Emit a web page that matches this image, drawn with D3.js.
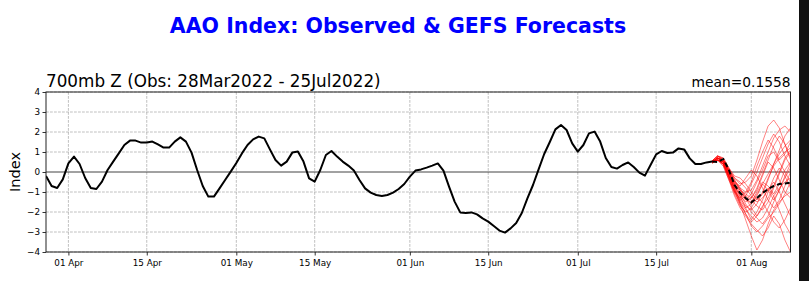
<!DOCTYPE html>
<html>
<head>
<meta charset="utf-8">
<script src="https://cdn.jsdelivr.net/npm/d3@7"></script>
<style>
  body { margin: 0; background: #fff; }
  svg { display: block; font-family: "DejaVu Sans", sans-serif; }
</style>
</head>
<body>
<script>
"use strict";

// daily observed AAO index, starting 28 Mar 2022
const obsStart = "2022-03-28";
const observed = [
  -0.2, -0.7, -0.8, -0.37, 0.43, 0.77, 0.4, -0.3, -0.8, -0.85,
  -0.48, 0.1, 0.52, 0.93, 1.35, 1.57, 1.57, 1.47, 1.47, 1.52,
  1.38, 1.22, 1.22, 1.52, 1.73, 1.52, 0.97, 0.1, -0.7, -1.23,
  -1.23, -0.82, -0.4, 0.02, 0.45, 0.93, 1.35, 1.63, 1.77, 1.68,
  1.13, 0.6, 0.32, 0.52, 0.97, 1.02, 0.52, -0.32, -0.48, 0.1,
  0.85, 1.05, 0.77, 0.52, 0.32, 0.07, -0.4, -0.82, -1.03, -1.15,
  -1.2, -1.15, -1.03, -0.85, -0.6, -0.23, 0.07, 0.13, 0.22, 0.32,
  0.43, 0.07, -0.73, -1.48, -2.02, -2.05, -2.02, -2.12, -2.32, -2.48,
  -2.7, -2.93, -3.03, -2.82, -2.55, -2.05, -1.32, -0.65, 0.13, 0.9,
  1.5, 2.13, 2.35, 2.1, 1.43, 1.02, 1.35, 1.93, 2.02, 1.52,
  0.7, 0.25, 0.17, 0.35, 0.48, 0.25, -0.03, -0.18, 0.35, 0.88,
  1.05, 0.95, 0.97, 1.18, 1.13, 0.68, 0.4, 0.4, 0.48, 0.52
];

// GEFS members, daily from 25 Jul 2022
const fcstStart = "2022-07-25";
const members = [
  [0.5, 0.7, 0.6, 0.0, -0.6, -1.0, -1.3, -1.6, -1.2, -0.6, -0.1, 0.4, 0.9, 1.3, 1.6],
  [0.45, 0.6, 0.4, -0.3, -1.0, -1.5, -1.9, -2.2, -2.5, -2.3, -1.8, -1.2, -0.8, -0.5, -0.3],
  [0.55, 0.8, 0.7, 0.2, -0.3, -0.6, -0.5, -0.2, 0.6, 1.5, 2.3, 2.6, 2.2, 1.4, 0.6],
  [0.5, 0.6, 0.5, -0.2, -0.9, -1.6, -2.4, -3.2, -3.9, -3.4, -2.6, -1.9, -1.5, -1.2, -1.0],
  [0.5, 0.7, 0.5, 0.0, -0.5, -0.8, -1.0, -0.9, -0.4, 0.3, 1.0, 1.7, 2.1, 2.3, 2.0],
  [0.45, 0.6, 0.3, -0.4, -1.2, -1.8, -2.2, -2.6, -2.9, -3.2, -2.8, -2.2, -2.6, -3.4, -4.0],
  [0.5, 0.7, 0.6, 0.1, -0.4, -0.9, -1.4, -1.5, -1.0, -0.5, -0.7, -1.1, -0.6, 0.1, 0.5],
  [0.55, 0.8, 0.6, 0.1, -0.5, -0.7, -0.3, 0.1, -0.2, -0.8, -1.4, -1.8, -1.4, -0.7, 0.0],
  [0.5, 0.6, 0.4, -0.2, -0.8, -1.3, -1.7, -1.9, -1.6, -1.0, -0.3, 0.3, 0.7, 1.0, 1.2],
  [0.5, 0.7, 0.5, -0.1, -0.9, -1.4, -1.2, -0.6, 0.0, 0.7, 1.4, 1.9, 1.5, 0.8, 0.3],
  [0.45, 0.7, 0.4, -0.3, -1.1, -1.7, -2.0, -1.8, -1.3, -1.5, -2.0, -2.5, -2.8, -2.4, -1.8],
  [0.5, 0.6, 0.5, 0.0, -0.6, -1.1, -1.6, -2.0, -2.3, -2.6, -2.2, -1.5, -0.9, -0.3, 0.2],
  [0.55, 0.8, 0.7, 0.2, -0.2, -0.3, -0.6, -1.0, -1.4, -1.1, -0.4, 0.4, 1.1, 1.8, 2.2],
  [0.5, 0.6, 0.4, -0.2, -0.7, -1.2, -1.5, -1.3, -0.9, -0.2, 0.5, 0.2, -0.4, -1.0, -1.3],
  [0.5, 0.7, 0.6, 0.0, -0.8, -1.5, -2.1, -2.7, -3.0, -2.7, -2.3, -2.0, -1.6, -1.1, -0.5],
  [0.5, 0.7, 0.5, -0.1, -0.6, -0.9, -1.2, -1.4, -1.7, -1.9, -1.5, -0.8, -0.1, 0.6, 1.0],
  [0.45, 0.6, 0.3, -0.4, -1.0, -1.3, -1.0, -0.5, 0.3, 1.0, 1.6, 1.2, 0.6, 0.9, 1.5],
  [0.55, 0.8, 0.6, 0.0, -0.7, -1.2, -1.8, -2.4, -2.0, -1.4, -0.8, -1.2, -1.9, -2.6, -3.1],
  [0.5, 0.7, 0.5, -0.1, -0.5, -0.9, -1.1, -1.3, -0.8, -0.1, 0.6, 1.3, 1.8, 1.4, 0.7],
  [0.5, 0.6, 0.5, -0.2, -0.9, -1.4, -1.8, -1.6, -1.1, -0.6, -0.9, -1.4, -0.9, -0.2, 0.4],
  [0.5, 0.7, 0.6, 0.1, -0.4, -0.8, -1.3, -1.8, -2.2, -1.8, -1.0, -0.3, 0.2, -0.2, -0.8],
  [0.5, 0.7, 0.4, -0.2, -0.8, -1.1, -1.4, -1.1, -0.5, 0.1, 0.8, 1.0, 0.5, 0.0, -0.5],
  [0.45, 0.6, 0.4, -0.3, -1.0, -1.6, -2.1, -2.5, -2.2, -1.7, -1.3, -0.7, 0.0, 0.7, 1.1],
  [0.55, 0.8, 0.6, 0.1, -0.3, -0.5, -0.8, -1.2, -1.5, -1.3, -0.9, -0.5, -1.0, -1.6, -2.2]
];
// ensemble mean (dashed)
const ensMean = [0.52, 0.5, 0.65, 0.1, -0.65, -1.05, -1.3, -1.52, -1.3, -1.05, -0.85, -0.7, -0.6, -0.57, -0.53];

const yTicks = [-4, -3, -2, -1, 0, 1, 2, 3, 4];
const xTicks = ["2022-04-01", "2022-04-15", "2022-05-01", "2022-05-15", "2022-06-01",
                "2022-06-15", "2022-07-01", "2022-07-15", "2022-08-01"];

const W = 809, H = 281;
const plot = { left: 46, right: 790.5, top: 92, bottom: 252 };

const parse = d3.utcParse("%Y-%m-%d");

function series(start, values) {
  const t0 = parse(start);
  return values.map((v, i) => ({ date: d3.utcDay.offset(t0, i), value: v }));
}

const svg = d3.select("body").append("svg")
  .attr("width", W)
  .attr("height", H);

svg.append("rect").attr("width", W).attr("height", H).attr("fill", "#fff");

const x = d3.scaleUtc()
  .domain([parse("2022-03-28"), parse("2022-08-08")])
  .range([plot.left, plot.right]);
const y = d3.scaleLinear()
  .domain([-4, 4])
  .range([plot.bottom, plot.top]);

// grid
const grid = svg.append("g").attr("stroke", "#b0b0b0").attr("stroke-width", 0.8)
  .attr("stroke-dasharray", "2.8,1.2");
grid.selectAll(".gy").data(yTicks.filter(d => d !== 0)).enter().append("line")
  .attr("x1", plot.left).attr("x2", plot.right)
  .attr("y1", d => y(d)).attr("y2", d => y(d));
grid.selectAll(".gx").data(xTicks).enter().append("line")
  .attr("x1", d => x(parse(d))).attr("x2", d => x(parse(d)))
  .attr("y1", plot.top).attr("y2", plot.bottom);

// zero line
svg.append("line")
  .attr("x1", plot.left).attr("x2", plot.right)
  .attr("y1", y(0)).attr("y2", y(0))
  .attr("stroke", "#444").attr("stroke-width", 1);

// clip to the axes box
svg.append("clipPath").attr("id", "clip").append("rect")
  .attr("x", plot.left).attr("y", plot.top)
  .attr("width", plot.right - plot.left).attr("height", plot.bottom - plot.top);

const line = d3.line().x(d => x(d.date)).y(d => y(d.value));
const lines = svg.append("g").attr("clip-path", "url(#clip)");

lines.append("path")
  .datum(series(obsStart, observed))
  .attr("d", line)
  .attr("fill", "none")
  .attr("stroke", "#000")
  .attr("stroke-width", 2)
  .attr("stroke-linejoin", "round");

lines.selectAll(".member").data(members).enter().append("path")
  .attr("d", d => line(series(fcstStart, d)))
  .attr("fill", "none")
  .attr("stroke", "#ff0000")
  .attr("stroke-opacity", 0.7)
  .attr("stroke-width", 0.7);

lines.append("path")
  .datum(series(fcstStart, ensMean))
  .attr("d", line)
  .attr("fill", "none")
  .attr("stroke", "#000")
  .attr("stroke-width", 2)
  .attr("stroke-dasharray", "5,3");

// axes
const fmtTick = d3.utcFormat("%d %b");
const xAxis = d3.axisBottom(x)
  .tickValues(xTicks.map(parse))
  .tickFormat(fmtTick)
  .tickSize(3.5)
  .tickPadding(4);
const yAxis = d3.axisLeft(y)
  .tickValues(yTicks)
  .tickFormat(d => d < 0 ? "\u2212" + Math.abs(d) : d)
  .tickSize(3.5)
  .tickPadding(2.5);

const gx = svg.append("g").attr("transform", `translate(0,${plot.bottom})`).call(xAxis);
const gy = svg.append("g").attr("transform", `translate(${plot.left},0)`).call(yAxis);
[gx, gy].forEach(g => {
  g.select(".domain").remove();
  g.selectAll("text").attr("font-family", "DejaVu Sans").attr("font-size", 8.8).attr("fill", "#000");
  g.selectAll("line").attr("stroke", "#000").attr("stroke-width", 0.8);
});

// frame
svg.append("rect")
  .attr("x", plot.left).attr("y", plot.top)
  .attr("width", plot.right - plot.left).attr("height", plot.bottom - plot.top)
  .attr("fill", "none").attr("stroke", "#222").attr("stroke-width", 1);

// titles
svg.append("text")
  .attr("x", 398).attr("y", 33)
  .attr("text-anchor", "middle")
  .attr("font-weight", "bold")
  .attr("font-size", 20.5)
  .attr("fill", "#0000ff")
  .text("AAO Index: Observed & GEFS Forecasts");

svg.append("text")
  .attr("x", plot.left).attr("y", 87)
  .attr("font-size", 16.8)
  .text("700mb Z (Obs: 28Mar2022 - 25Jul2022)");

svg.append("text")
  .attr("x", plot.right).attr("y", 87)
  .attr("text-anchor", "end")
  .attr("font-size", 13.8)
  .text("mean=0.1558");

svg.append("text")
  .attr("transform", `translate(20,${y(0)}) rotate(-90)`)
  .attr("text-anchor", "middle")
  .attr("font-size", 14.5)
  .text("Index");

// dark strip at the right edge of the picture
svg.append("rect")
  .attr("x", 799).attr("y", 0)
  .attr("width", W - 799).attr("height", H)
  .attr("fill", "#111");
</script>
</body>
</html>
